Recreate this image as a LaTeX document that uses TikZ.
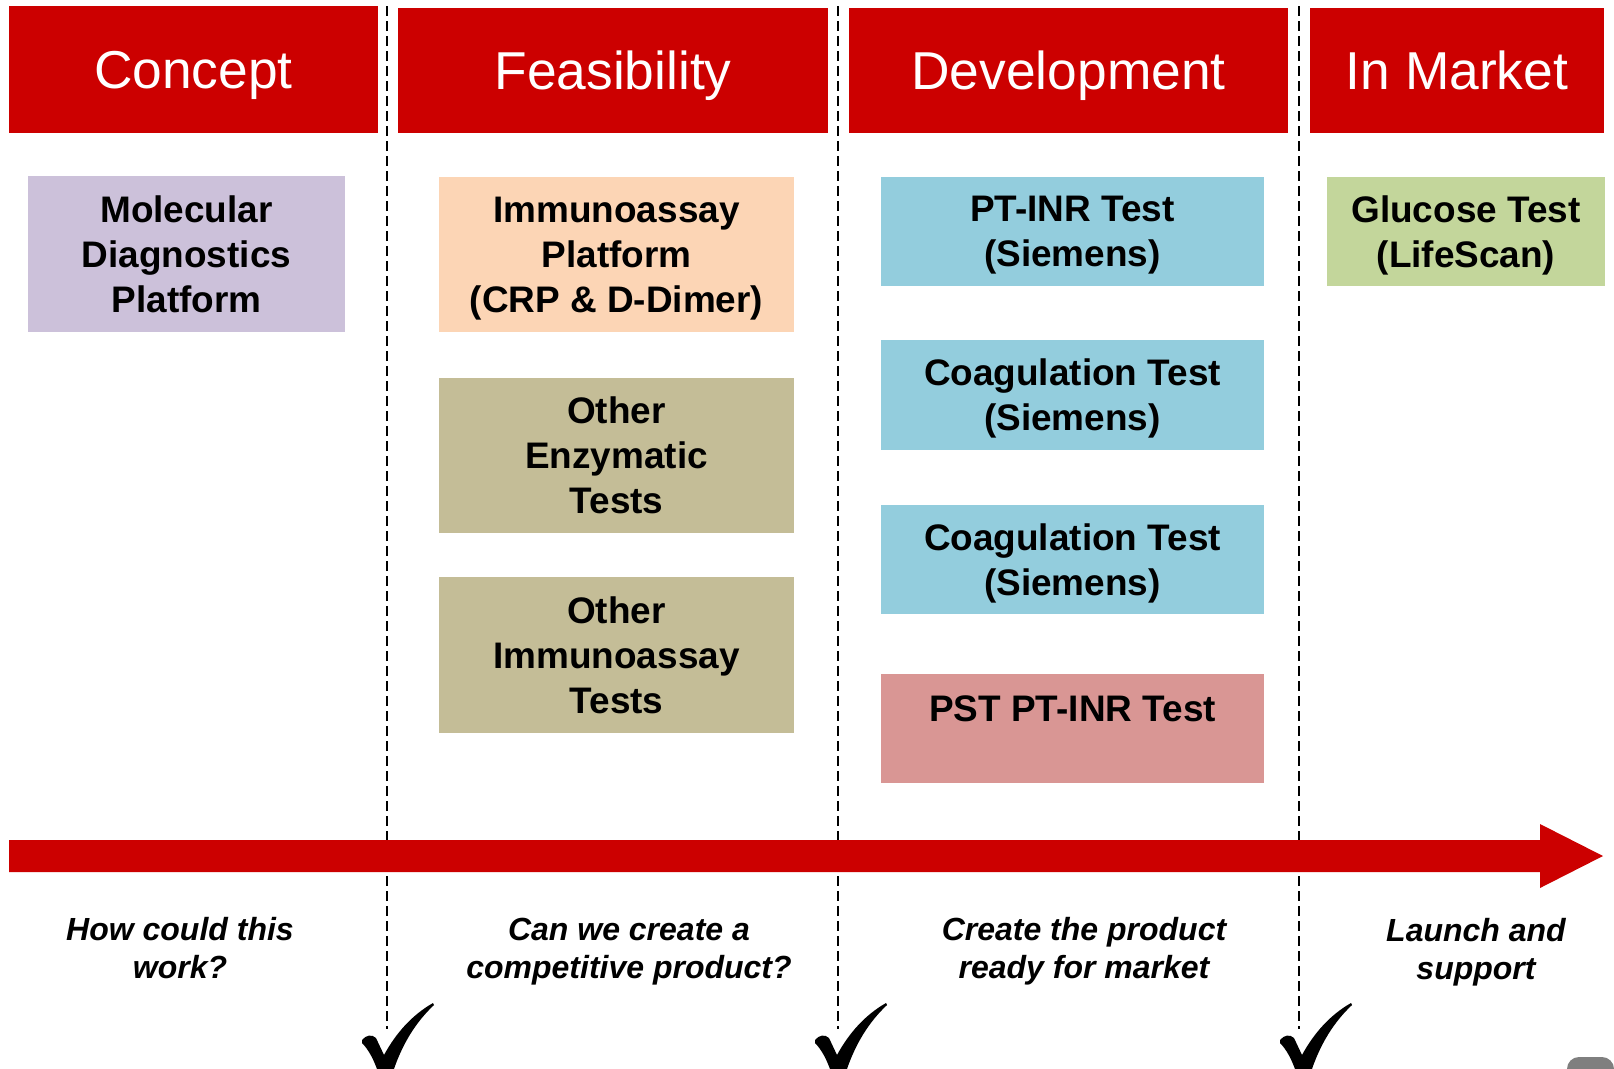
\documentclass[tikz,border=0pt]{standalone}
\usepackage{fontspec}
\setmainfont{Liberation Sans}
\definecolor{hdred}{HTML}{CC0000}
\definecolor{lav}{HTML}{CCC1DA}
\definecolor{peach}{HTML}{FCD5B5}
\definecolor{khaki}{HTML}{C4BD97}
\definecolor{skyb}{HTML}{93CDDD}
\definecolor{rosy}{HTML}{D99694}
\definecolor{lime}{HTML}{C3D69B}
\definecolor{cornergray}{HTML}{7F7F7F}
\begin{document}
\begin{tikzpicture}[x=0.75pt,y=-0.75pt,
  wd/.style={minimum width=#1*0.75pt},
  ht/.style={minimum height=#1*0.75pt},
  header/.style={fill=hdred, inner sep=0pt, text=white, text height=28.6pt, text depth=0pt,
    font=\fontsize{40}{48}\selectfont},
  stagebox/.style={inner sep=0pt, align=center, text depth=0pt,
    font=\fontsize{27.7}{33.8}\selectfont\bfseries},
  question/.style={align=center, inner sep=0pt, font=\fontsize{24}{28.5}\selectfont\bfseries\itshape},
  gate/.style={black, dash pattern=on 7.5pt off 3.75pt, line width=1.4pt},
  tickmark/.pic={
    \fill[black] (0,37) .. controls (4,32) and (10,31) .. (14,35)
      -- (22,52) .. controls (34,30) and (50,12) .. (71,0)
      -- (72,2) .. controls (55,18) and (40,40) .. (30,72)
      -- (17,72) .. controls (12,56) and (6,46) .. (0,40) -- cycle;
  }]
\clip (0,0) rectangle (1614,1068);
\fill[white] (0,0) rectangle (1614,1068);

% stage gates
\draw[gate] (387,6) -- (387,1029);
\draw[gate] (838,6) -- (838,1029);
\draw[gate] (1299,6) -- (1299,1029);

% phase headers
\node[header, wd=369, ht=127] (concept) at (193.5,69.5) {Concept};
\node[header, wd=430, ht=125] (feas) at (613,70.5) {Feasibility};
\node[header, wd=439, ht=125] (dev) at (1068.5,70.5) {Development};
\node[header, wd=294, ht=125] (market) at (1457,70.5) {In Market};

% concept
\node[stagebox, fill=lav, wd=317, ht=156] (mdx) at (186.5,254) {Molecular\\Diagnostics\\Platform};

% feasibility
\node[stagebox, fill=peach, wd=355, ht=155] (immplat) at (616.5,254.5) {Immunoassay\\Platform\\(CRP \& D-Dimer)};
\node[stagebox, fill=khaki, wd=355, ht=155] (enz) at (616.5,455.5) {Other\\Enzymatic\\Tests};
\node[stagebox, fill=khaki, wd=355, ht=156] (immoth) at (616.5,655) {Other\\Immunoassay\\Tests};

% development
\node[stagebox, fill=skyb, wd=383, ht=109] (ptinr) at (1072.5,231.5) {PT-INR Test\\(Siemens)};
\node[stagebox, fill=skyb, wd=383, ht=110] (coag1) at (1072.5,395) {Coagulation Test\\(Siemens)};
\node[stagebox, fill=skyb, wd=383, ht=109] (coag2) at (1072.5,559.5) {Coagulation Test\\(Siemens)};
\node[stagebox, fill=rosy, wd=383, ht=109] (pst) at (1072.5,728.5) {};
\node[stagebox, anchor=north] (psttext) at ([yshift=-16pt]pst.north) {PST PT-INR Test};

% in market
\node[stagebox, fill=lime, wd=278, ht=109] (gluc) at (1466,231.5) {Glucose Test\\(LifeScan)};

% timeline arrow
\fill[hdred] (9,840) -- (1540,840) -- (1540,824) -- (1603,856) -- (1540,888)
  -- (1540,872) -- (9,872) -- cycle;

% guiding questions
\node[question] (q1) at (180,948) {How could this\\work?};
\node[question] (q2) at (629,952) {Can we create a\\competitive product?};
\node[question] (q3) at (1084,951) {Create the product\\ready for market};
\node[question] (q4) at (1476,952) {Launch and\\support};

% gate checkmarks
\pic at (362,1003) {tickmark};
\pic at (815,1003) {tickmark};
\pic at (1280,1003) {tickmark};

% corner tab
\fill[cornergray, rounded corners=9pt] (1614,1080) -- (1567,1080) -- (1567,1057) -- (1614,1057) -- cycle;
\end{tikzpicture}
\end{document}
